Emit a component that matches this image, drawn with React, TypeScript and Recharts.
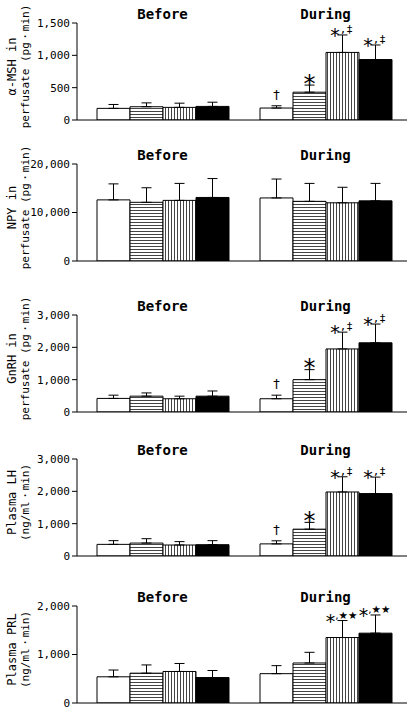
import { BarChart, Bar, XAxis, YAxis, ErrorBar, LabelList } from "recharts";

const groups = ["Before", "During"];

// α-MSH in perfusate
const mshTicks = [0, 500, 1000, 1500];
const mshBefore = [180, 205, 195, 210];
const mshBeforeSem = [60, 60, 65, 65];
const mshDuring = [185, 430, 1045, 935];
const mshDuringSem = [35, 110, 270, 225];
const mshMarks = ["†", "*", "*,‡", "*,‡"];

// NPY in perfusate
const npyTicks = [0, 10000, 20000];
const npyBefore = [12600, 12100, 12500, 13100];
const npyBeforeSem = [3300, 3000, 3500, 3900];
const npyDuring = [13000, 12300, 12000, 12400];
const npyDuringSem = [3900, 3700, 3200, 3600];
const npyMarks = ["", "", "", ""];

// GnRH in perfusate
const gnrhTicks = [0, 1000, 2000, 3000];
const gnrhBefore = [420, 490, 410, 490];
const gnrhBeforeSem = [100, 100, 80, 160];
const gnrhDuring = [410, 1000, 1950, 2140];
const gnrhDuringSem = [110, 310, 520, 580];
const gnrhMarks = ["†", "*", "*,‡", "*,‡"];

// Plasma LH
const lhTicks = [0, 1000, 2000, 3000];
const lhBefore = [360, 400, 340, 350];
const lhBeforeSem = [115, 135, 105, 125];
const lhDuring = [375, 830, 1980, 1930];
const lhDuringSem = [95, 210, 470, 510];
const lhMarks = ["†", "*", "*,‡", "*,‡"];

// Plasma PRL
const prlTicks = [0, 1000, 2000];
const prlBefore = [540, 615, 650, 525];
const prlBeforeSem = [140, 170, 165, 145];
const prlDuring = [605, 825, 1350, 1440];
const prlDuringSem = [165, 220, 350, 375];
const prlMarks = ["", "", "*,★★", "*,★★"];

const MONO = "DejaVu Sans Mono";
const MT = 26;
const MB = 12;
const PLOT_H = 97;

type PanelProps = {
  id: string;
  top: number;
  label: [string, string];
  ticks: number[];
  before: number[];
  beforeSem: number[];
  during: number[];
  duringSem: number[];
  marks: string[];
};

function Panel({ id, top, label, ticks, before, beforeSem, during, duringSem, marks }: PanelProps) {
  const rows = groups.map((g, gi) => {
    const mean = gi === 0 ? before : during;
    const sem = gi === 0 ? beforeSem : duringSem;
    const row: any = { group: g };
    mean.forEach((v, i) => {
      row[`v${i}`] = v;
      row[`e${i}`] = [0, sem[i]];
      row[`m${i}`] = gi === 1 ? marks[i] : "";
    });
    return row;
  });

  const fills = ["#ffffff", `url(#h-${id})`, `url(#v-${id})`, "#000000"];

  // significance marks go just above the error bar cap
  const renderMark = (i: number) => (p: any) => {
    const { x, y, width, height, value, index } = p;
    if (!value) return null;
    const row = rows[index];
    const errTop = y - (row[`e${i}`][1] * height) / row[`v${i}`];
    const cx = x + width / 2;
    const s = String(value);
    if (s === "*") {
      return (
        <text x={cx} y={errTop + 6.5} textAnchor="middle" fontSize={24} fontFamily="DejaVu Sans" fill="#000">
          *
        </text>
      );
    }
    if (s[0] === "*") {
      const stars = s.includes("★");
      return (
        <text x={cx - 1} y={errTop - 2} textAnchor="middle" fill="#000">
          <tspan fontSize={19} fontFamily="DejaVu Sans" dy={9}>*</tspan>
          <tspan fontSize={stars ? 10.5 : 11} fontFamily={stars ? "DejaVu Sans" : MONO} dy={-9}>
            {s.slice(1)}
          </tspan>
        </text>
      );
    }
    return (
      <text x={cx} y={errTop - 7} textAnchor="middle" fontSize={13} fontFamily="DejaVu Sans" fill="#000">
        {s}
      </text>
    );
  };

  // group titles sit just above the top of the plot
  const titleTick = (p: any) => (
    <text
      x={p.x}
      y={p.y - PLOT_H - 4}
      textAnchor="middle"
      fontSize={14}
      fontWeight="bold"
      fontFamily={MONO}
      fill="#000"
    >
      {p.payload.value}
    </text>
  );

  const yLabel = (p: any) => {
    const vb = p.viewBox || { y: MT, height: PLOT_H };
    const cy = vb.y + vb.height / 2 - 5;
    return (
      <g fill="#000" fontFamily={MONO}>
        <text transform={`translate(12,${cy}) rotate(-90)`} textAnchor="middle" dominantBaseline="central" fontSize={12}>
          {label[0]}
        </text>
        <text transform={`translate(25,${cy}) rotate(-90)`} textAnchor="middle" dominantBaseline="central" fontSize={11}>
          {label[1]}
        </text>
      </g>
    );
  };

  return (
    <div style={{ position: "absolute", left: 0, top: top - MT }}>
      <BarChart
        width={413}
        height={MT + PLOT_H + MB}
        data={rows}
        margin={{ top: MT, right: 6, bottom: MB - 1, left: 0 }}
        barGap={0}
      >
        <defs>
          <pattern id={`h-${id}`} width={4} height={3} patternUnits="userSpaceOnUse">
            <rect width={4} height={3} fill="#fff" />
            <line x1={0} y1={0.5} x2={4} y2={0.5} stroke="#444" strokeWidth={1} />
          </pattern>
          <pattern id={`v-${id}`} width={3} height={4} patternUnits="userSpaceOnUse">
            <rect width={3} height={4} fill="#fff" />
            <line x1={0.5} y1={0} x2={0.5} y2={4} stroke="#444" strokeWidth={1} />
          </pattern>
        </defs>
        <XAxis
          dataKey="group"
          height={1}
          tick={titleTick}
          tickSize={0}
          tickMargin={0}
          tickLine={false}
          interval={0}
          axisLine={{ stroke: "#000" }}
          padding={{ left: 4, right: 0 }}
        />
        <YAxis
          type="number"
          width={77}
          domain={[0, ticks[ticks.length - 1]]}
          ticks={ticks}
          interval={0}
          allowDataOverflow
          tickSize={5}
          tickMargin={2}
          axisLine={{ stroke: "#000" }}
          tickLine={{ stroke: "#000" }}
          tick={{ fontSize: 11, fontFamily: MONO, fill: "#000" }}
          tickFormatter={(v: number) => v.toLocaleString("en-US")}
          label={yLabel}
        />
        {[0, 1, 2, 3].map((i) => (
          <Bar
            key={i}
            dataKey={`v${i}`}
            fill={fills[i]}
            stroke="#000"
            strokeWidth={1}
            barSize={33}
            isAnimationActive={false}
          >
            <ErrorBar dataKey={`e${i}`} direction="y" width={5} stroke="#000" strokeWidth={1} />
            <LabelList dataKey={`m${i}`} content={renderMark(i)} />
          </Bar>
        ))}
      </BarChart>
    </div>
  );
}

export default function App() {
  return (
    <div
      style={{
        position: "absolute",
        left: 0,
        top: 0,
        width: 413,
        height: 713,
        background: "#fff",
        overflow: "hidden",
      }}
    >
      <Panel id="msh" top={23} label={["α-MSH in", "perfusate (pg・min)"]} ticks={mshTicks}
        before={mshBefore} beforeSem={mshBeforeSem} during={mshDuring} duringSem={mshDuringSem} marks={mshMarks} />
      <Panel id="npy" top={164} label={["NPY in", "perfusate (pg・min)"]} ticks={npyTicks}
        before={npyBefore} beforeSem={npyBeforeSem} during={npyDuring} duringSem={npyDuringSem} marks={npyMarks} />
      <Panel id="gnrh" top={315} label={["GnRH in", "perfusate (pg・min)"]} ticks={gnrhTicks}
        before={gnrhBefore} beforeSem={gnrhBeforeSem} during={gnrhDuring} duringSem={gnrhDuringSem} marks={gnrhMarks} />
      <Panel id="lh" top={459} label={["Plasma LH", "(ng/ml・min)"]} ticks={lhTicks}
        before={lhBefore} beforeSem={lhBeforeSem} during={lhDuring} duringSem={lhDuringSem} marks={lhMarks} />
      <Panel id="prl" top={606} label={["Plasma PRL", "(ng/ml・min)"]} ticks={prlTicks}
        before={prlBefore} beforeSem={prlBeforeSem} during={prlDuring} duringSem={prlDuringSem} marks={prlMarks} />
    </div>
  );
}
